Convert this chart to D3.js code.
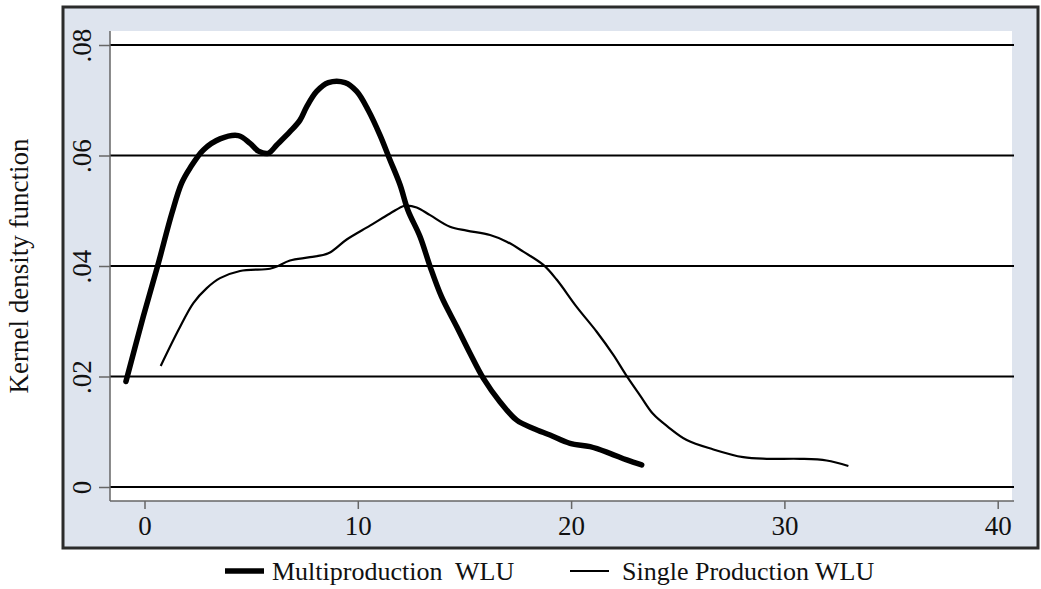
<!DOCTYPE html>
<html>
<head>
<meta charset="utf-8">
<script src="https://cdn.jsdelivr.net/npm/d3@7"></script>
<style>
  body { margin: 0; background: #fff; }
  svg text { font-family: "Liberation Serif", "Times New Roman", serif; fill: #111; }
</style>
</head>
<body>
<div id="chart"></div>
<script>
// Multiproduction WLU (thick line): x = WLU, y = density
var multiX = [-0.87, -0.06, 0.65, 1.28, 1.74, 2.13, 2.76, 3.54, 4.40, 4.95, 5.34, 5.80, 6.20, 6.82, 7.29, 7.60, 8.07, 8.62, 9.40, 9.95, 10.49, 11.04, 11.51, 11.98, 12.35, 12.92, 13.39, 13.93, 14.64, 15.26, 15.88, 16.67, 17.45, 18.23, 19.01, 19.95, 20.89, 21.82, 22.61, 23.31];
var multiY = [0.0191, 0.0308, 0.0405, 0.0495, 0.0550, 0.0577, 0.0610, 0.0630, 0.0636, 0.0622, 0.0608, 0.0604, 0.0619, 0.0643, 0.0664, 0.0688, 0.0716, 0.0732, 0.0732, 0.0716, 0.0682, 0.0637, 0.0592, 0.0547, 0.0501, 0.0453, 0.0399, 0.0344, 0.0290, 0.0242, 0.0197, 0.0154, 0.0121, 0.0106, 0.0094, 0.0079, 0.0073, 0.0061, 0.0049, 0.0040];

// Single Production WLU (thin line)
var singleX = [0.76, 1.59, 2.29, 2.92, 3.54, 4.48, 5.88, 6.20, 6.82, 7.76, 8.62, 9.48, 10.57, 11.51, 12.21, 12.76, 13.39, 14.32, 15.11, 16.20, 16.98, 17.76, 18.70, 19.33, 20.26, 21.20, 21.98, 22.57, 23.23, 23.85, 24.54, 25.42, 26.67, 28.07, 29.17, 30.73, 31.98, 33.00];
var singleY = [0.0219, 0.0284, 0.0333, 0.0360, 0.0378, 0.0391, 0.0395, 0.0399, 0.0410, 0.0416, 0.0423, 0.0448, 0.0473, 0.0495, 0.0509, 0.0506, 0.0492, 0.0471, 0.0464, 0.0456, 0.0444, 0.0426, 0.0402, 0.0375, 0.0326, 0.0281, 0.0239, 0.0203, 0.0166, 0.0132, 0.0109, 0.0085, 0.0068, 0.0054, 0.0051, 0.0051, 0.0048, 0.0038];

var xTicks = [0, 10, 20, 30, 40];
var yTicks = [0, 0.02, 0.04, 0.06, 0.08];
var yTickLabels = ["0", ".02", ".04", ".06", ".08"];
var seriesNames = ["Multiproduction  WLU", "Single Production WLU"];
var yTitle = "Kernel density function";

var width = 1041, height = 589;

// plot region in page pixels
var plot = {left: 110, top: 31, right: 1012, bottom: 501};

var svg = d3.select("#chart").append("svg")
    .attr("width", width)
    .attr("height", height);

// graph region (light bluish background with dark frame)
svg.append("rect")
    .attr("x", 63).attr("y", 7)
    .attr("width", 975).attr("height", 541)
    .attr("fill", "#dee4ee")
    .attr("stroke", "#2b2b2b")
    .attr("stroke-width", 3);

// white plot area
svg.append("rect")
    .attr("x", plot.left).attr("y", plot.top)
    .attr("width", plot.right - plot.left).attr("height", plot.bottom - plot.top)
    .attr("fill", "#fff");

var x = d3.scaleLinear()
    .domain([0, 40])
    .range([144.5, 997.7]);

var y = d3.scaleLinear()
    .domain([0, 0.08])
    .range([487, 45]);

// grid lines
svg.append("g")
  .selectAll("line")
  .data(yTicks)
  .enter().append("line")
    .attr("x1", plot.left).attr("x2", plot.right + 2)
    .attr("y1", function(d) { return y(d); })
    .attr("y2", function(d) { return y(d); })
    .attr("stroke", "#000")
    .attr("stroke-width", 2);

// y axis
var yAxis = d3.axisLeft(y)
    .tickValues(yTicks)
    .tickSize(11)
    .tickPadding(0)
    .tickFormat(function(d, i) { return yTickLabels[i]; });

var gy = svg.append("g")
    .attr("transform", "translate(" + plot.left + ",0)")
    .call(yAxis);
gy.select(".domain")
    .attr("d", "M0," + plot.top + "V" + plot.bottom)
    .attr("stroke", "#666")
    .attr("stroke-width", 1.5);
gy.selectAll(".tick line").attr("stroke", "#666").attr("stroke-width", 1.5);
gy.selectAll(".tick text")
    .attr("x", null).attr("dy", null)
    .attr("transform", "translate(-28,0) rotate(-90)")
    .attr("text-anchor", "middle")
    .attr("dy", "0.33em")
    .style("font-size", "27px")
    .style("font-family", "'Liberation Serif', serif");

// x axis
var xAxis = d3.axisBottom(x)
    .tickValues(xTicks)
    .tickSize(8)
    .tickPadding(7)
    .tickFormat(d3.format("d"));

var gx = svg.append("g")
    .attr("transform", "translate(0," + plot.bottom + ")")
    .call(xAxis);
gx.select(".domain")
    .attr("d", "M" + plot.left + ",0H" + (plot.right + 2))
    .attr("stroke", "#666")
    .attr("stroke-width", 1.5);
gx.selectAll(".tick line").attr("stroke", "#666").attr("stroke-width", 1.5);
gx.selectAll(".tick text")
    .style("font-size", "27px")
    .style("font-family", "'Liberation Serif', serif");

// y title
svg.append("text")
    .attr("transform", "translate(28," + ((plot.top + plot.bottom) / 2) + ") rotate(-90)")
    .attr("text-anchor", "middle")
    .style("font-size", "27px")
    .text(yTitle);

// curves
var line = d3.line()
    .x(function(d) { return x(d[0]); })
    .y(function(d) { return y(d[1]); })
    .curve(d3.curveCatmullRom);

var multi = d3.zip(multiX, multiY);
var single = d3.zip(singleX, singleY);

svg.append("path")
    .datum(single)
    .attr("d", line)
    .attr("fill", "none")
    .attr("stroke", "#000")
    .attr("stroke-width", 2.2)
    .attr("stroke-linejoin", "round");

svg.append("path")
    .datum(multi)
    .attr("d", line)
    .attr("fill", "none")
    .attr("stroke", "#000")
    .attr("stroke-width", 5.5)
    .attr("stroke-linecap", "round")
    .attr("stroke-linejoin", "round");

// legend
var legend = svg.append("g").attr("transform", "translate(0,571)");
var legendItems = [
  {name: seriesNames[0], x0: 225, w: 5.5},
  {name: seriesNames[1], x0: 570, w: 2.2}
];
legendItems.forEach(function(d) {
  legend.append("line")
      .attr("x1", d.x0).attr("x2", d.x0 + 39)
      .attr("y1", 0).attr("y2", 0)
      .attr("stroke", "#000")
      .attr("stroke-width", d.w);
  legend.append("text")
      .attr("x", d.x0 + (d.w > 3 ? 47 : 52))
      .attr("y", 0)
      .attr("dy", "0.33em")
      .style("font-size", "26px")
      .style("white-space", "pre")
      .attr("xml:space", "preserve")
      .text(d.name);
});
</script>
</body>
</html>
